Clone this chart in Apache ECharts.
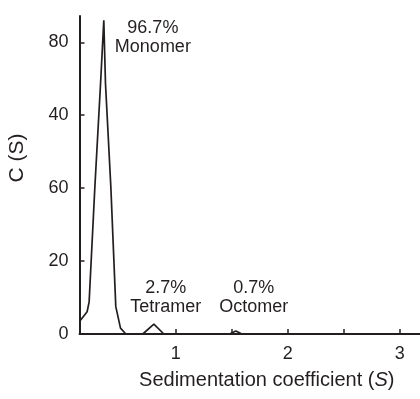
<!DOCTYPE html>
<html>
<head>
<meta charset="utf-8">
<script src="https://cdn.jsdelivr.net/npm/echarts@6/dist/echarts.min.js"></script>
<style>
html,body{margin:0;padding:0;background:#fff;}
#chart{width:420px;height:399px;}
</style>
</head>
<body>
<div id="chart"></div>
<script>
// Sedimentation coefficient (S) samples and c(S) values
var sValues = [0.14, 0.208, 0.226, 0.277, 0.328, 0.357, 0.372, 0.42, 0.464, 0.506, 0.554, 0.705, 0.804, 0.893, 1.48, 1.536, 1.59, 3.2];
var cValues = [3.4, 6.1, 8.8, 40.2, 68.7, 86.0, 68.7, 40.2, 7.5, 1.6, 0, 0, 2.7, 0, 0, 0.8, 0, 0];

// y tick values and the labels printed beside them in the original figure
var yTickValues = [0, 20, 40, 60, 80];
var yTickLabels = ['0', '20', '60', '40', '80'];
var xTickValues = [1, 1.5, 2, 2.5, 3];
var xLabelValues = [1, 2, 3];

// peak annotations
var peakNames = ['Monomer', 'Tetramer', 'Octomer'];
var peakPercents = ['96.7%', '2.7%', '0.7%'];
var peakLabelS = [0.795, 0.91, 1.696];
var peakLabelC = [81.4, 10.1, 10.1];

var ink = '#231f20';
var font = '"Liberation Sans", Arial, Helvetica, sans-serif';

var lineData = sValues.map(function (s, i) { return [s, cValues[i]]; });
var annData = peakNames.map(function (n, i) {
  return { value: [peakLabelS[i], peakLabelC[i]], pct: peakPercents[i], nm: n };
});

var chart = echarts.init(document.getElementById('chart'), null, { renderer: 'canvas' });
chart.setOption({
  backgroundColor: '#ffffff',
  animation: false,
  textStyle: { fontFamily: font, color: ink },
  grid: { left: 79.5, top: 16, right: 0, bottom: 65, containLabel: false, outerBoundsMode: 'none' },
  xAxis: {
    type: 'value',
    min: 0.14,
    max: 3.18,
    name: 'Sedimentation coefficient ({it|S})',
    nameLocation: 'middle',
    nameGap: 36,
    nameTextStyle: {
      fontFamily: font, fontSize: 20, color: ink, padding: [0, 0, 0, 34],
      rich: { it: { fontStyle: 'italic', fontFamily: font, fontSize: 20, color: ink } }
    },
    axisLine: { show: true, onZero: false, lineStyle: { color: ink, width: 2 } },
    axisTick: { show: true, inside: true, length: 5, customValues: xTickValues, lineStyle: { color: ink, width: 1.5 } },
    axisLabel: { show: true, customValues: xLabelValues, margin: 11, fontSize: 18, color: ink, fontFamily: font },
    splitLine: { show: false }
  },
  yAxis: {
    type: 'value',
    min: 0,
    max: 87.2,
    name: 'C (S)',
    nameLocation: 'middle',
    nameGap: 52,
    nameRotate: 90,
    nameTextStyle: { fontFamily: font, fontSize: 21, color: ink, padding: [0, 0, 0, 34] },
    axisLine: { show: true, onZero: false, lineStyle: { color: ink, width: 2 } },
    axisTick: { show: true, inside: true, length: 5, customValues: yTickValues, lineStyle: { color: ink, width: 1.5 } },
    axisLabel: {
      show: true, customValues: yTickValues, margin: 11, fontSize: 18, color: ink, fontFamily: font,
      formatter: function (v) {
        var i = yTickValues.indexOf(v);
        return i >= 0 ? yTickLabels[i] : '';
      }
    },
    splitLine: { show: false }
  },
  series: [
    {
      type: 'line',
      data: lineData,
      symbol: 'none',
      smooth: false,
      clip: false,
      lineStyle: { color: ink, width: 1.7 },
      z: 3
    },
    {
      type: 'scatter',
      data: annData,
      symbolSize: 0,
      silent: true,
      itemStyle: { opacity: 1, color: ink },
      label: {
        show: true,
        position: 'inside',
        align: 'center',
        verticalAlign: 'middle',
        fontFamily: font,
        fontSize: 18,
        lineHeight: 19,
        color: ink,
        formatter: function (p) { return p.data.pct + '\n' + p.data.nm; }
      }
    }
  ]
});
</script>
</body>
</html>
